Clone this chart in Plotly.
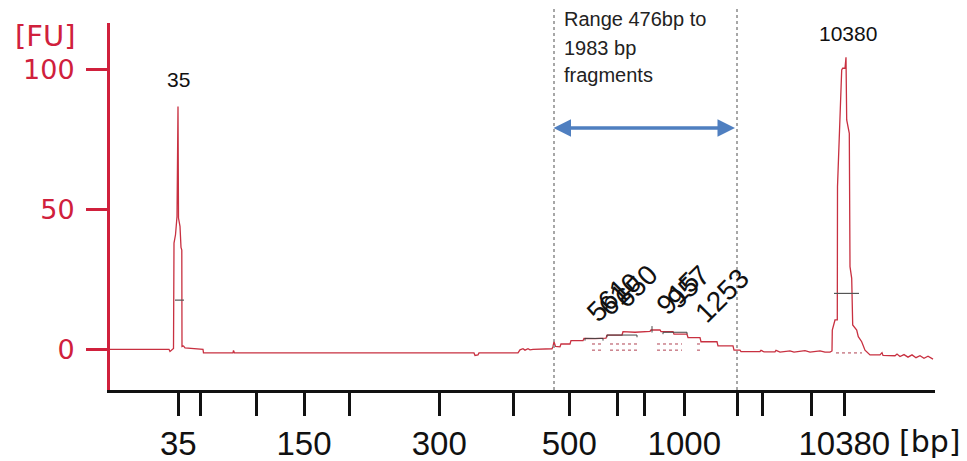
import plotly.graph_objects as go

# ---------------- data ----------------
# ladder sizes (bp) and their migration positions (s) read from the x-axis ticks
ladder_bp = [35, 50, 100, 150, 200, 300, 400, 500, 600, 700, 1000, 2000, 3000, 7000, 10380]
ladder_time = [46.83, 49.0, 54.6, 59.4, 63.93, 72.93, 80.33, 85.93, 90.77, 93.4,
               97.43, 102.73, 105.27, 110.17, 113.43]
ladder_labels = ["35", "", "", "150", "", "300", "", "500", "", "", "1000", "", "", "", "10380"]

# electropherogram trace: migration time (s) and fluorescence (FU)
trace_time = [40.0, 45.9, 46.0, 46.2, 46.35, 46.4, 46.55, 46.7, 46.8, 46.85, 47.0, 47.1, 47.18,
              47.2, 47.35, 47.5, 48.5, 49.3, 49.35, 52.3, 52.35, 52.45, 76.4, 76.5, 76.8, 76.9,
              80.8, 81.0, 81.3, 81.5, 81.8, 82.0, 82.3, 84.2, 84.3, 84.4, 84.55, 85.0, 85.1,
              86.0, 86.1, 87.3, 87.4, 88.5, 89.6, 89.7, 91.2, 91.3, 92.5, 94.0, 94.1, 95.0,
              95.1, 96.3, 96.4, 97.7, 97.8, 99.0, 99.1, 100.7, 100.8, 102.3, 102.4, 103.0,
              103.1, 105.0, 105.1, 105.4, 106.5, 106.6, 107.0, 108.0, 108.4, 109.5, 110.0,
              111.0, 111.5, 112.0, 112.2, 112.23, 112.5, 112.73, 112.75, 113.17, 113.27,
              113.5, 113.6, 113.67, 113.93, 114.0, 114.17, 114.27, 114.67, 114.83, 115.17,
              115.5, 116.0, 117.0, 117.2, 117.3, 118.5, 118.7, 119.0, 119.4, 119.8, 120.2,
              120.6, 121.0, 121.4, 121.8, 122.3]
trace_fu = [0.0, 0.0, -0.8, 0.0, 0.3, 38.0, 41.0, 47.5, 86.9, 47.0, 44.0, 36.5, 35.5,
            1.0, 1.2, 0.5, 0.3, 0.0, -1.3, -1.3, -0.4, -1.3, -1.3, -2.2, -2.0, -1.3,
            -1.3, -0.2, 0.2, -0.3, 0.2, -0.2, 0.0, 0.2, 1.0, 2.7, 1.0, 0.9, 1.9,
            1.9, 3.1, 3.1, 3.9, 3.8, 4.0, 5.1, 5.1, 6.3, 6.1, 6.4, 6.9, 6.9,
            6.3, 6.3, 5.4, 5.4, 4.2, 4.2, 2.7, 2.7, 1.2, 1.2, -0.3, -0.3,
            -0.8, -0.8, -0.4, -0.9, -0.9, -0.4, -1.0, -0.6, -1.0, -0.5, -1.0,
            -0.6, -1.0, -1.0, -0.6, 6.9, 10.5, 10.5, 58.2, 100.0, 100.6,
            100.6, 104.5, 82.1, 77.3, 29.6, 25.4, 8.7, 6.9, 4.5, 2.7,
            -0.3, -2.0, -2.0, -1.2, -2.2, -2.3, -1.7, -2.6, -1.9, -2.8, -2.0,
            -3.0, -2.3, -3.2, -2.5, -3.5]

# marker peaks: label, position, label height
marker_names = ["35", "10380"]
marker_label_time = [46.8, 113.8]
marker_label_fu = [96.4, 113.2]

# half-height bars of the marker peaks
halfbar_time = [46.5, 47.4, None, 112.4, 114.9]
halfbar_fu = [17.6, 17.6, None, 20.0, 20.0]

# sample peak labels (rotated, overlapping)
peak_names = ["561", "610", "650", "915", "957", "1253"]
peak_label_time = [89.8, 91.0, 92.6, 96.8, 97.8, 101.2]
peak_label_fu = [17.5, 19.5, 22.5, 19.8, 22.3, 19.2]

# peak boundary brackets and baselines in the smear region
bracket_time = [87.5, 87.5, 89.3, 89.3, None, 89.7, 89.7, 92.7, 92.7, None, 95.3, 95.3, 97.7, 97.7,
                None, 94.2, 94.2]
bracket_fu = [3.1, 3.9, 3.9, 3.1, None, 4.3, 5.1, 5.1, 4.3, None, 5.4, 6.1, 6.1, 5.4,
              None, 6.0, 8.3]
base_time = [88.2, 89.3, None, 90.0, 92.7, None, 94.7, 97.2, None, 98.7, 99.3, None,
             88.2, 89.3, None, 90.0, 92.7, None, 94.7, 97.2, None, 98.7, 99.3, None,
             112.6, 115.2]
base_fu = [1.9, 1.9, None, 1.9, 1.9, None, 1.9, 1.9, None, 1.9, 1.9, None,
           -0.3, -0.3, None, -0.3, -0.3, None, -0.3, -0.3, None, -0.3, -0.3, None,
           -1.3, -1.3]

# selected range (bp) and its migration limits
range_bp = [476, 1983]
range_time = [84.4, 102.7]
range_text = ["Range 476bp to", "1983 bp", "fragments"]
range_text_y = [1.010, 0.932, 0.857]   # paper fractions of the plot height
arrow_fu = 79.2

RED = "#d0203c"
TRACE = "#c83040"

fig = go.Figure()
fig.add_trace(go.Scatter(x=trace_time, y=trace_fu, mode="lines",
                         line=dict(color=TRACE, width=1.3), hoverinfo="skip"))
fig.add_trace(go.Scatter(x=base_time, y=base_fu, mode="lines",
                         line=dict(color="#b04050", width=1, dash="dot"), hoverinfo="skip"))
fig.add_trace(go.Scatter(x=bracket_time, y=bracket_fu, mode="lines",
                         line=dict(color="#444444", width=1), hoverinfo="skip"))
fig.add_trace(go.Scatter(x=halfbar_time, y=halfbar_fu, mode="lines",
                         line=dict(color="#555555", width=1.2), hoverinfo="skip"))

annotations = []
for name, t, v in zip(marker_names, marker_label_time, marker_label_fu):
    annotations.append(dict(x=t, y=v, xref="x", yref="y", text=name, showarrow=False,
                            xanchor="center", yanchor="middle",
                            font=dict(family="Liberation Sans", size=21, color="#111111")))
for name, t, v in zip(peak_names, peak_label_time, peak_label_fu):
    annotations.append(dict(x=t, y=v, xref="x", yref="y", text=name, showarrow=False,
                            textangle=-45, xanchor="center", yanchor="middle",
                            font=dict(family="Liberation Sans", size=28, color="#111111")))
for line, yp in zip(range_text, range_text_y):
    annotations.append(dict(x=range_time[0] + 0.8, y=yp, xref="x", yref="paper", text=line,
                            showarrow=False, xanchor="left", yanchor="middle",
                            font=dict(family="Liberation Sans", size=20, color="#222222")))
annotations.append(dict(x=range_time[1] - 0.2, y=arrow_fu, ax=range_time[0] - 0.2, ay=arrow_fu,
                        xref="x", yref="y", axref="x", ayref="y", text="",
                        showarrow=True, arrowside="end+start", arrowhead=2, arrowsize=1.0,
                        arrowwidth=3.5, arrowcolor="#4f7fc0"))
annotations.append(dict(x=-0.078, y=0.965, xref="paper", yref="paper", text="[FU]",
                        showarrow=False, xanchor="center", yanchor="middle",
                        font=dict(family="DejaVu Sans", size=29, color=RED)))
annotations.append(dict(x=0.994, y=-0.139, xref="paper", yref="paper", text="[bp]",
                        showarrow=False, xanchor="center", yanchor="middle",
                        font=dict(family="DejaVu Sans", size=30, color="#111111")))

shapes = []
for t in range_time:
    shapes.append(dict(type="line", xref="x", yref="paper", x0=t, x1=t, y0=0, y1=1.07,
                       line=dict(color="#8a8a8a", width=1.5, dash="dot")))

# the page body adds an 8 px offset, so margins are shifted to land the plot area in place
fig.update_layout(
    width=967, height=461,
    margin=dict(l=102, r=40, t=15, b=79, autoexpand=False),
    paper_bgcolor="white", plot_bgcolor="white",
    showlegend=False,
    annotations=annotations,
    shapes=shapes,
    xaxis=dict(range=[40, 122.5], tickvals=ladder_time, ticktext=ladder_labels,
               automargin=False,
               ticks="outside", ticklen=23, tickwidth=3, tickcolor="#111111",
               ticklabelstandoff=0,
               showline=True, linecolor="#111111", linewidth=2.5,
               showgrid=False, zeroline=False,
               tickfont=dict(family="Liberation Sans", size=33, color="#111111")),
    yaxis=dict(range=[-14.57, 116.8], tickvals=[0, 50, 100],
               automargin=False,
               ticks="outside", ticklen=21, tickwidth=3, tickcolor=RED,
               ticklabelstandoff=6,
               showline=True, linecolor=RED, linewidth=3,
               showgrid=False, zeroline=False,
               tickfont=dict(family="DejaVu Sans", size=27, color=RED)),
)

fig.write_html("out.html")
